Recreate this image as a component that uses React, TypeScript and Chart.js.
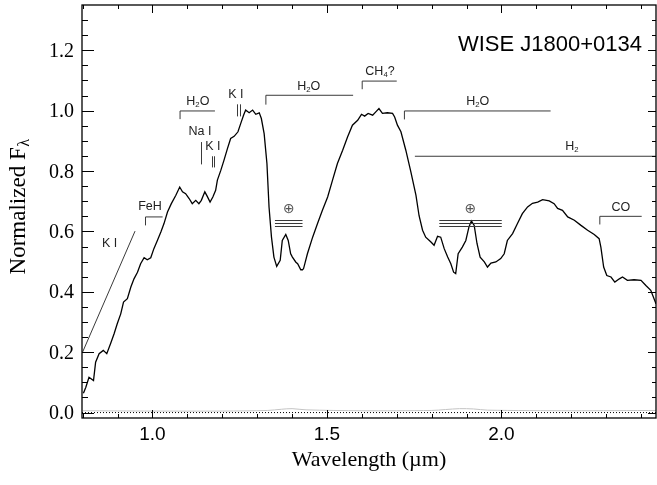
import React, { useEffect, useRef } from "react";
import { Chart, registerables } from "chart.js";

Chart.register(...registerables);

// ---- Spectrum (wavelength in micron, normalized flux) ----
const wavelength = [
  0.802, 0.809, 0.818, 0.831, 0.837, 0.847, 0.859, 0.869, 0.880, 0.890,
  0.899, 0.909, 0.917, 0.928, 0.938, 0.947, 0.957, 0.966, 0.976, 0.985,
  0.995, 1.004, 1.014, 1.024, 1.033, 1.043, 1.054, 1.067, 1.078, 1.086,
  1.095, 1.105, 1.114, 1.124, 1.133, 1.140, 1.150, 1.157, 1.165, 1.173,
  1.181, 1.186, 1.196, 1.205, 1.215, 1.224, 1.234, 1.245, 1.253, 1.261,
  1.267, 1.277, 1.287, 1.296, 1.306, 1.312, 1.320, 1.328, 1.334, 1.341,
  1.348, 1.356, 1.366, 1.372, 1.382, 1.389, 1.396, 1.401, 1.411, 1.416,
  1.425, 1.430, 1.433, 1.444, 1.459, 1.473, 1.487, 1.502, 1.516, 1.530,
  1.545, 1.559, 1.573, 1.588, 1.599, 1.608, 1.618, 1.631, 1.640, 1.649,
  1.659, 1.673, 1.688, 1.694, 1.702, 1.712, 1.726, 1.740, 1.755, 1.764,
  1.774, 1.783, 1.798, 1.807, 1.817, 1.826, 1.836, 1.846, 1.855, 1.863,
  1.869, 1.876, 1.888, 1.898, 1.907, 1.914, 1.922, 1.930, 1.939, 1.951,
  1.960, 1.970, 1.984, 1.998, 2.008, 2.017, 2.032, 2.046, 2.060, 2.075,
  2.089, 2.104, 2.118, 2.137, 2.151, 2.161, 2.175, 2.190, 2.209, 2.228,
  2.247, 2.266, 2.280, 2.285, 2.293, 2.302, 2.314, 2.325, 2.338, 2.347,
  2.361, 2.380, 2.400, 2.414, 2.428, 2.443, 2.450,
];
const flux = [
  0.064, 0.084, 0.117, 0.106, 0.167, 0.195, 0.206, 0.195, 0.229, 0.261,
  0.294, 0.327, 0.366, 0.377, 0.416, 0.443, 0.465, 0.493, 0.513, 0.506,
  0.513, 0.543, 0.570, 0.598, 0.626, 0.664, 0.692, 0.720, 0.747, 0.731,
  0.725, 0.709, 0.692, 0.703, 0.692, 0.703, 0.731, 0.716, 0.697, 0.714,
  0.736, 0.770, 0.803, 0.836, 0.875, 0.908, 0.915, 0.930, 0.958, 0.985,
  1.002, 0.993, 1.002, 0.988, 0.993, 0.974, 0.924, 0.825, 0.681, 0.581,
  0.515, 0.484, 0.504, 0.570, 0.590, 0.570, 0.526, 0.515, 0.498, 0.493,
  0.473, 0.473, 0.477, 0.526, 0.581, 0.626, 0.670, 0.714, 0.770, 0.825,
  0.869, 0.913, 0.952, 0.968, 0.988, 0.982, 0.991, 0.985, 0.996, 1.007,
  0.991, 0.993, 0.991, 0.979, 0.952, 0.930, 0.869, 0.800, 0.720, 0.652,
  0.604, 0.581, 0.565, 0.554, 0.584, 0.581, 0.543, 0.515, 0.493, 0.465,
  0.460, 0.526, 0.548, 0.570, 0.615, 0.635, 0.620, 0.560, 0.515, 0.499,
  0.482, 0.495, 0.499, 0.510, 0.526, 0.570, 0.593, 0.626, 0.659, 0.681,
  0.693, 0.697, 0.705, 0.701, 0.692, 0.676, 0.670, 0.648, 0.637, 0.620,
  0.604, 0.590, 0.576, 0.548, 0.482, 0.454, 0.449, 0.432, 0.443, 0.449,
  0.438, 0.440, 0.438, 0.421, 0.405, 0.360, 0.340,
];

// ---- Noise spectrum (grey, near zero) ----
const noiseWavelength = [0.80, 1.00, 1.20, 1.33, 1.37, 1.40, 1.44, 1.60, 1.80, 1.84, 1.88, 1.92, 1.96, 2.20, 2.45];
const noiseFlux = [0.006, 0.005, 0.005, 0.007, 0.011, 0.013, 0.009, 0.006, 0.007, 0.010, 0.013, 0.012, 0.008, 0.006, 0.007];

// ---- Axes ----
const X_MIN = 0.798;
const X_MAX = 2.443;
const Y_MIN = -0.018;
const Y_MAX = 1.35;
const xMajorTicks = [1.0, 1.5, 2.0];
const xTickLabels = ["1.0", "1.5", "2.0"];
const xMinorTicks = [0.8, 0.9, 1.0, 1.1, 1.2, 1.3, 1.4, 1.5, 1.6, 1.7, 1.8, 1.9, 2.0, 2.1, 2.2, 2.3, 2.4];
const yMajorTicks = [0.0, 0.2, 0.4, 0.6, 0.8, 1.0, 1.2];
const yTickLabels = ["0.0", "0.2", "0.4", "0.6", "0.8", "1.0", "1.2"];
const yMinorTicks = [0.05, 0.1, 0.15, 0.25, 0.3, 0.35, 0.45, 0.5, 0.55, 0.65, 0.7, 0.75, 0.85, 0.9, 0.95, 1.05, 1.1, 1.15, 1.25, 1.3];

const xAxisTitle = "Wavelength (\u00b5m)";
const yAxisTitle = "Normalized F";
const yAxisTitleSub = "\u03bb";
const objectName = "WISE J1800+0134";

// ---- Feature annotations (data coordinates) ----
// brackets: [x1, x2, y, yTickEnd or null]
const bracketLines = [
  [0.980, 1.029, 0.648, 0.620],
  [1.079, 1.179, 0.999, 0.972],
  [1.325, 1.575, 1.051, 1.020],
  [1.601, 1.700, 1.098, 1.071],
  [1.722, 2.141, 0.999, 0.971],
  [2.282, 2.402, 0.650, 0.623],
  [1.752, 2.46, 0.849, null],
];
// vertical markers: [x, yTop, yBottom]
const markerLines = [
  [1.138, 0.896, 0.822],
  [1.170, 0.849, 0.812],
  [1.175, 0.849, 0.812],
  [1.243, 1.021, 0.981],
  [1.251, 1.021, 0.981],
];
// slanted K I line: [x1, y1, x2, y2]
const slantLines = [[0.800, 0.201, 0.950, 0.601]];
// labels: [text, x center, y baseline]  ("_" marks subscript char)
const featureLabels: [string, number, number][] = [
  ["K I", 0.877, 0.549],
  ["FeH", 0.993, 0.670],
  ["H_2O", 1.130, 1.018],
  ["Na I", 1.136, 0.920],
  ["K I", 1.173, 0.869],
  ["K I", 1.239, 1.041],
  ["H_2O", 1.448, 1.068],
  ["CH_4?", 1.652, 1.117],
  ["H_2O", 1.932, 1.018],
  ["H_2", 2.202, 0.869],
  ["CO", 2.342, 0.668],
];
// telluric bands: [x1, x2, symbol x, symbol y]
const telluricBands = [
  [1.351, 1.430, 1.391, 0.674],
  [1.822, 2.001, 1.911, 0.673],
];
const telluricLevels = [0.639, 0.629, 0.619];

const SANS = '"Liberation Sans", Arial, Helvetica, sans-serif';
const SERIF = '"Liberation Serif", "Times New Roman", Times, serif';

function drawRichText(ctx: CanvasRenderingContext2D, text: string, cx: number, by: number, size: number) {
  const parts: { t: string; sub: boolean }[] = [];
  for (let i = 0; i < text.length; i++) {
    if (text[i] === "_" && i + 1 < text.length) {
      parts.push({ t: text[i + 1], sub: true });
      i++;
    } else {
      parts.push({ t: text[i], sub: false });
    }
  }
  const subSize = size * 0.62;
  let total = 0;
  const widths = parts.map((p) => {
    ctx.font = `${p.sub ? subSize : size}px ${SANS}`;
    const w = ctx.measureText(p.t).width;
    total += w;
    return w;
  });
  let x = cx - total / 2;
  ctx.textAlign = "left";
  ctx.textBaseline = "alphabetic";
  parts.forEach((p, i) => {
    ctx.font = `${p.sub ? subSize : size}px ${SANS}`;
    ctx.fillText(p.t, x, p.sub ? by + size * 0.12 : by);
    x += widths[i];
  });
}

const framePlugin = {
  id: "framePlugin",
  afterDraw(chart: any) {
    const ctx: CanvasRenderingContext2D = chart.ctx;
    const { left, right, top, bottom } = chart.chartArea;
    const xs = chart.scales.x;
    const ys = chart.scales.y;
    ctx.save();

    // annotations
    ctx.save();
    ctx.beginPath();
    ctx.rect(left, top, right - left, bottom - top);
    ctx.clip();
    ctx.strokeStyle = "#3a3a3a";
    ctx.lineWidth = 1;
    bracketLines.forEach(([x1, x2, y, yt]) => {
      const px1 = xs.getPixelForValue(x1);
      const px2 = xs.getPixelForValue(x2);
      const py = ys.getPixelForValue(y);
      ctx.beginPath();
      if (yt !== null) {
        ctx.moveTo(px1, ys.getPixelForValue(yt as number));
        ctx.lineTo(px1, py);
      } else {
        ctx.moveTo(px1, py);
      }
      ctx.lineTo(px2, py);
      ctx.stroke();
    });
    markerLines.forEach(([x, y1, y2]) => {
      const px = Math.round(xs.getPixelForValue(x)) + 0.5;
      ctx.beginPath();
      ctx.moveTo(px, ys.getPixelForValue(y1));
      ctx.lineTo(px, ys.getPixelForValue(y2));
      ctx.stroke();
    });
    slantLines.forEach(([x1, y1, x2, y2]) => {
      ctx.beginPath();
      ctx.moveTo(xs.getPixelForValue(x1), ys.getPixelForValue(y1));
      ctx.lineTo(xs.getPixelForValue(x2), ys.getPixelForValue(y2));
      ctx.stroke();
    });
    telluricBands.forEach(([x1, x2, sx, sy]) => {
      telluricLevels.forEach((lv) => {
        const py = Math.round(ys.getPixelForValue(lv)) + 0.5;
        ctx.beginPath();
        ctx.moveTo(xs.getPixelForValue(x1), py);
        ctx.lineTo(xs.getPixelForValue(x2), py);
        ctx.stroke();
      });
      ctx.fillStyle = "#555";
      ctx.font = `14px "DejaVu Sans", ${SANS}`;
      ctx.textAlign = "center";
      ctx.textBaseline = "middle";
      ctx.fillText("\u2295", xs.getPixelForValue(sx), ys.getPixelForValue(sy));
    });
    ctx.fillStyle = "#222";
    featureLabels.forEach(([t, x, y]) => {
      drawRichText(ctx, t, xs.getPixelForValue(x), ys.getPixelForValue(y), 12.5);
    });
    ctx.restore();

    // object name
    ctx.fillStyle = "#000";
    ctx.font = `22px ${SANS}`;
    ctx.textAlign = "right";
    ctx.textBaseline = "alphabetic";
    ctx.fillText(objectName, right - 14, top + 46);

    // frame
    ctx.strokeStyle = "#000";
    ctx.lineWidth = 1.3;
    ctx.strokeRect(left, top, right - left, bottom - top);

    // ticks
    ctx.lineWidth = 1;
    xMinorTicks.forEach((v) => {
      const major = xMajorTicks.some((m) => Math.abs(m - v) < 1e-6);
      const len = major ? 8 : 4;
      const px = Math.round(xs.getPixelForValue(v)) + 0.5;
      ctx.beginPath();
      ctx.moveTo(px, bottom);
      ctx.lineTo(px, bottom - len);
      ctx.moveTo(px, top);
      ctx.lineTo(px, top + len);
      ctx.stroke();
    });
    [...yMajorTicks, ...yMinorTicks].forEach((v) => {
      const major = yMajorTicks.some((m) => Math.abs(m - v) < 1e-6);
      const py = Math.round(ys.getPixelForValue(v)) + 0.5;
      ctx.beginPath();
      ctx.moveTo(left, py);
      ctx.lineTo(left + (major ? 12 : 6), py);
      ctx.moveTo(right, py);
      ctx.lineTo(right - (major ? 8 : 4), py);
      ctx.stroke();
    });

    // tick labels
    ctx.fillStyle = "#000";
    ctx.font = `19px ${SANS}`;
    ctx.textAlign = "center";
    ctx.textBaseline = "alphabetic";
    xMajorTicks.forEach((v, i) => {
      ctx.fillText(xTickLabels[i], xs.getPixelForValue(v), bottom + 22);
    });
    ctx.font = `20px ${SERIF}`;
    ctx.textAlign = "right";
    yMajorTicks.forEach((v, i) => {
      ctx.fillText(yTickLabels[i], left - 8, ys.getPixelForValue(v) + 6.5);
    });

    // axis titles
    ctx.font = `22px ${SERIF}`;
    ctx.textAlign = "center";
    ctx.fillText(xAxisTitle, (left + right) / 2, bottom + 48);

    ctx.save();
    ctx.translate(25, 207);
    ctx.rotate(-Math.PI / 2);
    ctx.font = `23px ${SERIF}`;
    const w1 = ctx.measureText(yAxisTitle).width;
    ctx.font = `16px ${SERIF}`;
    const w2 = ctx.measureText(yAxisTitleSub).width;
    const start = -(w1 + w2) / 2;
    ctx.textAlign = "left";
    ctx.font = `23px ${SERIF}`;
    ctx.fillText(yAxisTitle, start, 0);
    ctx.font = `16px ${SERIF}`;
    ctx.fillText(yAxisTitleSub, start + w1 + 0.5, 4);
    ctx.restore();

    ctx.restore();
  },
};

export default function App() {
  const canvasRef = useRef<HTMLCanvasElement | null>(null);

  useEffect(() => {
    if (!canvasRef.current) return;
    const spectrum = wavelength.map((x, i) => ({ x, y: flux[i] }));
    const noise = noiseWavelength.map((x, i) => ({ x, y: noiseFlux[i] }));
    const zero = [
      { x: X_MIN, y: 0 },
      { x: X_MAX, y: 0 },
    ];
    const chart = new Chart(canvasRef.current, {
      type: "line",
      data: {
        datasets: [
          {
            data: noise,
            borderColor: "#c4c4c4",
            borderWidth: 1,
            pointRadius: 0,
            tension: 0.3,
          },
          {
            data: zero,
            borderColor: "#000",
            borderWidth: 1,
            borderDash: [1, 2],
            pointRadius: 0,
          },
          {
            data: spectrum,
            borderColor: "#000",
            borderWidth: 1.3,
            pointRadius: 0,
            tension: 0,
          },
        ],
      },
      options: {
        responsive: false,
        animation: false,
        devicePixelRatio: 1,
        layout: { padding: { left: 82, right: 1, top: 5, bottom: 67 } },
        plugins: { legend: { display: false }, tooltip: { enabled: false } },
        scales: {
          x: { type: "linear", min: X_MIN, max: X_MAX, display: false },
          y: { type: "linear", min: Y_MIN, max: Y_MAX, display: false },
        },
      },
      plugins: [framePlugin],
    });
    return () => chart.destroy();
  }, []);

  return (
    <div style={{ position: "absolute", left: 0, top: 0, width: 657, height: 485, background: "#fff" }}>
      <canvas ref={canvasRef} width={657} height={485} />
    </div>
  );
}
